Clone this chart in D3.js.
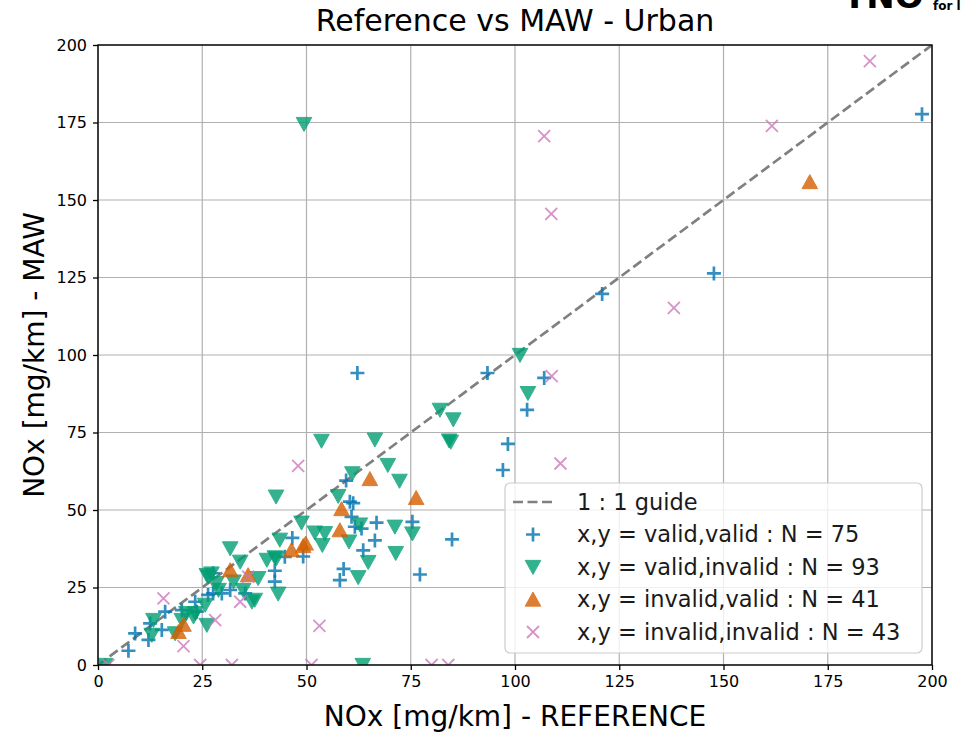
<!DOCTYPE html>
<html>
<head>
<meta charset="utf-8">
<script src="https://cdn.jsdelivr.net/npm/d3@7"></script>
<style>
  html, body { margin: 0; padding: 0; background: #fff; }
  svg { display: block; font-family: "DejaVu Sans", sans-serif; }
</style>
</head>
<body>
<svg id="chart" width="961" height="738"></svg>
<script>
// ---- data ----
const xTicks = [0, 25, 50, 75, 100, 125, 150, 175, 200];
const yTicks = [0, 25, 50, 75, 100, 125, 150, 175, 200];

const validValid = [
  [197.6,177.7],[147.7,126.3],[120.9,119.7],[62.2,94.2],[93.4,94.2],[107,92.6],
  [98.3,71.3],[97.1,62.9],[102.9,82.3],[84.9,40.5],[77.2,29.2],[75.4,46.2],
  [66.8,45.9],[66.4,40.2],[63.6,37],[59.5,59.5],[60.4,52.7],[61.2,52.2],
  [60.8,47.8],[61.6,44.6],[63.2,44],[58.9,31],[58,27.4],[46.6,41],[49.2,35],
  [44.8,34.9],[42.4,30.4],[42.4,26.9],[27.6,29.6],[27.6,23.1],[29.7,23.1],
  [31.7,24.2],[35.3,23.1],[23.3,20.4],[23.7,17.2],[7.3,4.6],[8.9,10.2],
  [12.1,8.1],[12.5,13.4],[15.3,11.3],[16.1,17.2],[20.1,17.7],[26.4,22.6]
];
const validInvalid = [
  [49.4,174.5],[101.2,100],[103.1,87.7],[82,82.3],[85.2,79.2],[84.2,72.4],
  [84.6,72],[53.6,72.3],[66.4,72.7],[61,61.8],[69.5,64.5],[72.3,59.4],
  [57.6,54.5],[48.8,45.9],[52,42.7],[54.4,42.5],[53.8,38.7],[62.8,45.3],
  [60.2,39.8],[71.2,44.6],[75.4,42.4],[71.4,36.1],[64.8,33.2],[62.4,28.3],
  [42.7,54.3],[43.6,40.4],[42.4,34.7],[43.2,23],[31.7,37.6],[34.1,33.3],
  [26.5,28.5],[28.4,26.4],[32.5,26.9],[28.9,24.2],[34.8,24.2],[38.4,28],
  [37.6,21],[36.9,20.4],[40.5,33.9],[42.8,34.4],[22.9,15.6],[26.1,12.9],
  [25.7,19.4],[1.7,0],[13.3,14.5],[12.9,9.7],[18.5,10.2],[20.1,14.5],
  [21.2,16.7],[23.3,16.7],[26.1,29],[27.2,29.5],[63.5,0]
];
const invalidValid = [
  [170.7,155.8],[76.3,53.9],[65.2,60],[58.4,50.3],[58,43.5],[49.8,39.2],
  [46.4,37.1],[36,29],[31.7,30.6],[19.3,10.7],[20.5,13],[49.2,38.4]
];
const invalidInvalid = [
  [185.1,194.8],[161.6,173.9],[107,170.6],[108.7,145.5],[138.1,115.2],
  [108.8,93.2],[110.9,65],[48,64.2],[53.1,12.6],[15.7,21.5],[20.5,6.1],
  [28.1,14.5],[34.1,20.4],[36,28.5],[24.5,0],[32.1,0],[2.5,0],[51.2,0],
  [80,0],[84,0]
];
const legendLabels = [
  "1 : 1 guide",
  "x,y = valid,valid : N = 75",
  "x,y = valid,invalid : N = 93",
  "x,y = invalid,valid : N = 41",
  "x,y = invalid,invalid : N = 43"
];
const titleText = "Reference vs MAW - Urban";
const xLabel = "NOx [mg/km] - REFERENCE";
const yLabel = "NOx [mg/km] - MAW";

// ---- layout ----
const L = 98, R = 932, T = 45, B = 665;
const colors = { blue: "#0173B2", green: "#029E73", orange: "#D55E00", pink: "#CC78BC" };

const svg = d3.select("#chart");
const x = d3.scaleLinear().domain([0, 200]).range([L, R]);
const y = d3.scaleLinear().domain([0, 200]).range([B, T]);

// grid
const grid = svg.append("g");
grid.selectAll(".gx").data(xTicks).join("line")
  .attr("x1", d => x(d)).attr("x2", d => x(d)).attr("y1", T).attr("y2", B)
  .attr("stroke", "#b0b0b0").attr("stroke-width", 1.2);
grid.selectAll(".gy").data(yTicks).join("line")
  .attr("y1", d => y(d)).attr("y2", d => y(d)).attr("x1", L).attr("x2", R)
  .attr("stroke", "#b0b0b0").attr("stroke-width", 1.2);

// clip
svg.append("defs").append("clipPath").attr("id", "clip")
  .append("rect").attr("x", L).attr("y", T).attr("width", R - L).attr("height", B - T);
const plot = svg.append("g").attr("clip-path", "url(#clip)");

// 1:1 guide
plot.append("line")
  .attr("x1", x(0)).attr("y1", y(0)).attr("x2", x(200)).attr("y2", y(200))
  .attr("stroke", "#808080").attr("stroke-width", 2.7).attr("stroke-dasharray", "10,4.5");

const r = 7.8;
const plusPath = `M-7,0H7M0,-7V7`;
const xPath = `M-6,-6L6,6M-6,6L6,-6`;
const downPath = `M${-r},${-r * 0.85}L${r},${-r * 0.85}L0,${r * 0.95}Z`;
const upPath = `M0,${-r * 0.95}L${r},${r * 0.85}L${-r},${r * 0.85}Z`;

function drawSeries(data, path, color, filled, sw) {
  plot.append("g").selectAll("path").data(data).join("path")
    .attr("transform", d => `translate(${x(d[0])},${y(d[1])})`)
    .attr("d", path)
    .attr("fill", filled ? color : "none")
    .attr("stroke", color)
    .attr("stroke-width", sw)
    .attr("opacity", 0.8);
}
drawSeries(validValid, plusPath, colors.blue, false, 2.7);
drawSeries(validInvalid, downPath, colors.green, true, 1);
drawSeries(invalidValid, upPath, colors.orange, true, 1);
drawSeries(invalidInvalid, xPath, colors.pink, false, 1.8);

// axes
const xAxis = svg.append("g").attr("transform", `translate(0,${B})`)
  .call(d3.axisBottom(x).tickValues(xTicks).tickSize(5).tickPadding(6).tickFormat(d3.format("d")));
const yAxis = svg.append("g").attr("transform", `translate(${L},0)`)
  .call(d3.axisLeft(y).tickValues(yTicks).tickSize(5).tickPadding(6).tickFormat(d3.format("d")));
[xAxis, yAxis].forEach(a => {
  a.select(".domain").remove();
  a.selectAll("line").attr("stroke", "#000").attr("stroke-width", 1.3);
  a.selectAll("text").attr("font-family", "DejaVu Sans").attr("font-size", 16).attr("fill", "#000");
});

// frame
svg.append("rect").attr("x", L).attr("y", T).attr("width", R - L).attr("height", B - T)
  .attr("fill", "none").attr("stroke", "#000").attr("stroke-width", 1.4);

// title and labels
svg.append("text").attr("x", (L + R) / 2).attr("y", 31).attr("text-anchor", "middle")
  .attr("font-size", 30).text(titleText);
svg.append("text").attr("x", (L + R) / 2).attr("y", 726).attr("text-anchor", "middle")
  .attr("font-size", 28).text(xLabel);
svg.append("text").attr("transform", `translate(44,${(T + B) / 2}) rotate(-90)`)
  .attr("text-anchor", "middle").attr("font-size", 28).text(yLabel);

// legend
const lg = svg.append("g");
lg.append("rect").attr("x", 505).attr("y", 483).attr("width", 417).attr("height", 170)
  .attr("rx", 5).attr("fill", "#fff").attr("fill-opacity", 0.8)
  .attr("stroke", "#cccccc").attr("stroke-width", 1.2);
const rowY = i => 502 + i * 32.5;
lg.append("line").attr("x1", 513).attr("x2", 553).attr("y1", rowY(0)).attr("y2", rowY(0))
  .attr("stroke", "#808080").attr("stroke-width", 2.7).attr("stroke-dasharray", "10,4.5");
const legMarks = [
  [plusPath, colors.blue, false, 2.7],
  [downPath, colors.green, true, 1],
  [upPath, colors.orange, true, 1],
  [xPath, colors.pink, false, 1.8]
];
legMarks.forEach((m, i) => {
  lg.append("path").attr("transform", `translate(533,${rowY(i + 1)})`)
    .attr("d", m[0]).attr("fill", m[2] ? m[1] : "none").attr("stroke", m[1])
    .attr("stroke-width", m[3]).attr("opacity", 0.8);
});
lg.selectAll("text").data(legendLabels).join("text")
  .attr("x", 577).attr("y", (d, i) => rowY(i)).attr("dy", "0.35em")
  .attr("font-size", 22.5).attr("fill", "#1a1a1a").text(d => d);

// logo (partially outside the frame, as in the reference)
svg.append("text").attr("x", 843).attr("y", 8).attr("font-size", 34).attr("font-weight", "bold")
  .attr("fill", "#000").text("TNO");
svg.append("text").attr("x", 933).attr("y", 10).attr("font-size", 12).attr("font-weight", "bold")
  .attr("fill", "#000").text("for life");
</script>
</body>
</html>
